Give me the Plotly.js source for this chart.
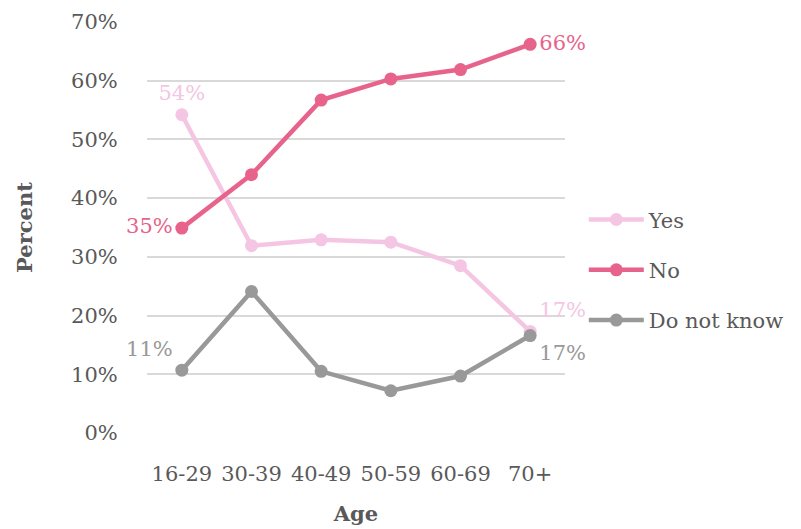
<!DOCTYPE html>
<html>
<head>
<meta charset="utf-8">
<script src="https://cdn.plot.ly/plotly-3.0.1.min.js"></script>
<style>html,body{margin:0;padding:0;background:#fff;}#chart{width:801px;height:529px;}</style>
</head>
<body>
<div id="chart"></div>
<script>
const categories = ["16-29", "30-39", "40-49", "50-59", "60-69", "70+"];
const yesValues = [54.2, 31.9, 32.9, 32.5, 28.5, 17.3];
const noValues = [34.9, 44.0, 56.7, 60.3, 61.9, 66.2];
const dkValues = [10.7, 24.1, 10.5, 7.2, 9.7, 16.6];
const yesLabels = ["54%", "", "", "", "", "17%"];
const noLabels = ["35%", "", "", "", "", "66%"];
const dkLabels = ["11%", "", "", "", "", "17%"];
const tickVals = [0, 10, 20, 30, 40, 50, 60, 70];
const tickText = ["0%", "10%", "20%", "30%", "40%", "50%", "60%", "70%"];

const FONT = "DejaVu Serif, Liberation Serif, serif";
const FS = 21;
function series(name, vals, labels, color, positions, group) {
  return {
    type: "scatter", mode: "lines+markers+text", name: name,
    x: categories, y: vals, text: labels, textposition: positions,
    textfont: {family: FONT, size: FS, color: color},
    line: {color: color, width: 4.5},
    marker: {color: color, size: 13},
    legendgroup: group, cliponaxis: false, hoverinfo: "skip"
  };
}
const data = [
  series("Yes", yesValues, yesLabels, "#F4C6E3", ["top center","top center","top center","top center","top center","top right"], "a"),
  series("No", noValues, noLabels, "#E8638B", ["middle left","middle left","middle left","middle left","middle left","middle right"], "b"),
  series("Do not know", dkValues, dkLabels, "#999999", ["top left","top left","top left","top left","top left","bottom right"], "c")
];
const layout = {
  width: 801, height: 529,
  margin: {l: 147, r: 236, t: 22, b: 95.5},
  paper_bgcolor: "#fff", plot_bgcolor: "#fff",
  font: {family: FONT, size: FS, color: "#595959"},
  showlegend: true,
  legend: {x: 1.045, xanchor: "left", y: 0.397, yanchor: "middle", tracegroupgap: 20, itemwidth: 55,
           font: {family: FONT, size: FS, color: "#595959"}, bgcolor: "rgba(0,0,0,0)"},
  xaxis: {
    type: "category", range: [-0.5, 5.5], showgrid: false, zeroline: false, showline: false,
    ticks: "outside", ticklen: 22, tickcolor: "rgba(0,0,0,0)",
    tickfont: {family: FONT, size: FS, color: "#595959"},
    title: {text: "<b>Age</b>", font: {family: FONT, size: FS, color: "#595959"}, standoff: 21}
  },
  yaxis: {
    range: [0, 70], tickvals: tickVals, ticktext: tickText,
    showgrid: true, gridcolor: "#D9D9D9", gridwidth: 2, zeroline: false, showline: false,
    ticks: "outside", ticklen: 24, tickcolor: "rgba(0,0,0,0)",
    tickfont: {family: FONT, size: FS, color: "#595959"},
    title: {text: "<b>Percent</b>", font: {family: FONT, size: FS, color: "#595959"}, standoff: 32}
  }
};
Plotly.newPlot("chart", data, layout, {displayModeBar: false, staticPlot: true});
</script>
</body>
</html>
